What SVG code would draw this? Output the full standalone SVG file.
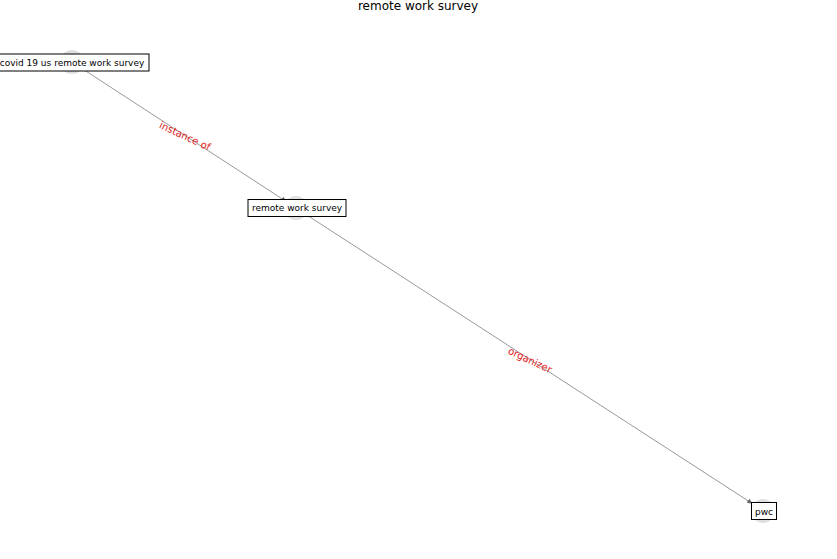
<svg xmlns="http://www.w3.org/2000/svg" width="837" height="559" viewBox="0 0 837 559">
<style>
.node circle{fill:#e0e0e0;}
.node rect{fill:#fff;stroke:#000;stroke-width:1;}
.node text{font-family:"DejaVu Sans",sans-serif;font-size:9px;fill:#000;text-anchor:middle;dominant-baseline:central;}
.edge{stroke:#999;stroke-width:1;fill:none;marker-end:url(#arr);}
.elabel{font-family:"DejaVu Sans",sans-serif;font-size:10px;fill:#e02020;text-anchor:middle;dominant-baseline:central;}
.title{font-family:"DejaVu Sans",sans-serif;font-size:12px;fill:#000;text-anchor:middle;}
</style>
<defs>
<marker id="arr" viewBox="0 0 10 10" refX="10" refY="5" markerWidth="6" markerHeight="6" orient="auto" markerUnits="userSpaceOnUse">
<path d="M0,1 L10,5 L0,9 z" fill="#666"/>
</marker>
</defs>
<rect width="837" height="559" fill="#fff"/>
<text class="title" x="418" y="10">remote work survey</text>
<g id="edges">
<line class="edge" x1="72" y1="62" x2="287" y2="202"/>
<line class="edge" x1="296" y1="208" x2="753" y2="504"/>
<text class="elabel" transform="translate(185,136) rotate(25)">instance of</text>
<text class="elabel" transform="translate(530,360) rotate(25)">organizer</text>
</g>
<g id="n1" class="node">
<circle cx="72" cy="62" r="12"/>
<rect x="-4" y="54" width="153" height="17"/>
<text x="72" y="62.5">covid 19 us remote work survey</text>
</g>
<g id="n2" class="node">
<circle cx="296" cy="208" r="12"/>
<rect x="248" y="199.5" width="98" height="17"/>
<text x="297" y="208">remote work survey</text>
</g>
<g id="n3" class="node">
<circle cx="763" cy="511" r="12"/>
<rect x="751.5" y="502.5" width="25" height="17"/>
<text x="764" y="511.5">pwc</text>
</g>
</svg>
